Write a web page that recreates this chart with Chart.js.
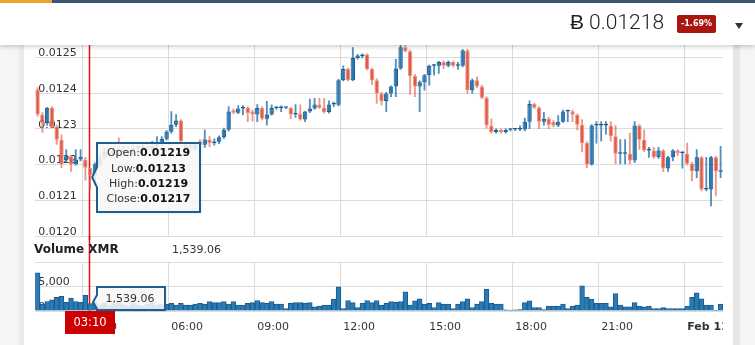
<!DOCTYPE html>
<html><head><meta charset="utf-8">
<script src="https://cdn.jsdelivr.net/npm/chart.js@4"></script>
<style>
html,body{margin:0;padding:0;width:755px;height:345px;overflow:hidden;background:#f5f5f5;font-family:"DejaVu Sans",sans-serif;}
#leftline{position:absolute;left:19px;top:0;width:5px;height:345px;background:#ebebeb;}
#panel{position:absolute;left:24px;top:0;width:709px;height:345px;background:#fff;}
#rightline{position:absolute;left:733px;top:0;width:7px;height:345px;background:#e6e6e6;}
#main{position:absolute;left:0;top:0;z-index:1}
#vol{position:absolute;left:0;top:236px;z-index:1}
#header{position:absolute;left:0;top:0;width:755px;height:45px;background:#fff;box-shadow:0 2px 4px rgba(0,0,0,0.18);z-index:5}
#topbar{position:absolute;left:0;top:0;width:755px;height:3px;background:#3b5374}
#orange{position:absolute;left:0;top:0;width:52px;height:3px;background:#f0a030}
#price{position:absolute;left:570px;top:10px;font-family:Roboto,sans-serif;font-weight:300;font-size:21px;color:#222;white-space:nowrap}
#badge{position:absolute;left:677px;top:15px;width:39px;height:18px;background:#a8160f;color:#fff;font:bold 8px "DejaVu Sans";text-align:center;line-height:18px;border-radius:2px}
#arrow{position:absolute;left:735px;top:23px;width:0;height:0;border-left:4px solid transparent;border-right:4px solid transparent;border-top:6px solid #333}
</style></head>
<body>
<div id="leftline"></div><div id="panel"></div><div id="rightline"></div>
<canvas id="main" width="723" height="240"></canvas>
<canvas id="vol" width="723" height="109"></canvas>
<div id="header"><div id="topbar"></div><div id="orange"></div>
<div id="price"></div><div id="badge"></div><div id="arrow"></div></div>
<script>
const times = [
'01:20','01:30','01:40','01:50',
'02:00','02:10','02:20','02:30','02:40','02:50',
'03:00','03:10','03:20','03:30','03:40','03:50',
'04:00','04:10','04:20','04:30','04:40','04:50',
'05:00','05:10','05:20','05:30','05:40','05:50',
'06:00','06:10','06:20','06:30','06:40','06:50',
'07:00','07:10','07:20','07:30','07:40','07:50',
'08:00','08:10','08:20','08:30','08:40','08:50',
'09:00','09:10','09:20','09:30','09:40','09:50',
'10:00','10:10','10:20','10:30','10:40','10:50',
'11:00','11:10','11:20','11:30','11:40','11:50',
'12:00','12:10','12:20','12:30','12:40','12:50',
'13:00','13:10','13:20','13:30','13:40','13:50',
'14:00','14:10','14:20','14:30','14:40','14:50',
'15:00','15:10','15:20','15:30','15:40','15:50',
'16:00','16:10','16:20','16:30','16:40','16:50',
'17:00','17:10','17:20','17:30','17:40','17:50',
'18:00','18:10','18:20','18:30','18:40','18:50',
'19:00','19:10','19:20','19:30','19:40','19:50',
'20:00','20:10','20:20','20:30','20:40','20:50',
'21:00','21:10','21:20','21:30','21:40','21:50',
'22:00','22:10','22:20','22:30','22:40','22:50',
'23:00','23:10','23:20','23:30','23:40','23:50',
'00:00','00:10','00:20','00:30','00:40','00:50',
'01:00','01:10'];

const opens = [
0.012410,0.012340,0.012316,0.012359,0.012306,0.012269,0.012212,0.012223,0.012201,0.012214,
0.012214,0.012190,0.012170,0.012200,0.012220,0.012235,0.012230,0.012245,0.012235,0.012242,
0.012234,0.012246,0.012246,0.012252,0.012242,0.012252,0.012258,0.012272,0.012292,0.012311,
0.012323,0.012242,0.012256,0.012244,0.012265,0.012255,0.012270,0.012260,0.012264,0.012276,
0.012297,0.012352,0.012345,0.012357,0.012359,0.012348,0.012340,0.012358,0.012328,0.012340,
0.012358,0.012358,0.012359,0.012358,0.012340,0.012342,0.012326,0.012348,0.012357,0.012368,
0.012359,0.012347,0.012368,0.012367,0.012436,0.012467,0.012436,0.012498,0.012503,0.012508,
0.012467,0.012436,0.012399,0.012378,0.012399,0.012418,0.012469,0.012528,0.012517,0.012448,
0.012418,0.012430,0.012450,0.012476,0.012476,0.012487,0.012476,0.012487,0.012476,0.012476,
0.012519,0.012408,0.012436,0.012418,0.012387,0.012309,0.012291,0.012297,0.012291,0.012297,
0.012298,0.012298,0.012298,0.012320,0.012369,0.012359,0.012320,0.012328,0.012320,0.012309,
0.012320,0.012348,0.012348,0.012339,0.012311,0.012260,0.012200,0.012309,0.012309,0.012309,
0.012309,0.012279,0.012230,0.012230,0.012230,0.012211,0.012309,0.012269,0.012239,0.012239,
0.012220,0.012239,0.012189,0.012220,0.012239,0.012232,0.012230,0.012202,0.012181,0.012220,
0.012130,0.012130,0.012220,0.012180];

const highs = [
0.012415,0.012345,0.012360,0.012362,0.012310,0.012283,0.012242,0.012226,0.012242,0.012242,
0.012220,0.012190,0.012205,0.012230,0.012245,0.012240,0.012255,0.012275,0.012250,0.012248,
0.012252,0.012254,0.012260,0.012256,0.012265,0.012278,0.012278,0.012296,0.012348,0.012340,
0.012326,0.012262,0.012260,0.012262,0.012270,0.012297,0.012278,0.012272,0.012280,0.012302,
0.012362,0.012355,0.012365,0.012365,0.012362,0.012352,0.012368,0.012362,0.012377,0.012367,
0.012362,0.012364,0.012360,0.012360,0.012368,0.012367,0.012349,0.012383,0.012385,0.012386,
0.012385,0.012378,0.012375,0.012438,0.012476,0.012470,0.012527,0.012508,0.012510,0.012510,
0.012470,0.012440,0.012402,0.012402,0.012420,0.012494,0.012534,0.012536,0.012520,0.012452,
0.012434,0.012452,0.012478,0.012480,0.012489,0.012490,0.012490,0.012490,0.012486,0.012522,
0.012522,0.012440,0.012445,0.012422,0.012390,0.012328,0.012300,0.012300,0.012300,0.012300,
0.012300,0.012308,0.012330,0.012378,0.012372,0.012362,0.012346,0.012332,0.012323,0.012337,
0.012352,0.012352,0.012352,0.012342,0.012326,0.012264,0.012312,0.012320,0.012320,0.012320,
0.012320,0.012309,0.012270,0.012270,0.012288,0.012320,0.012312,0.012297,0.012248,0.012248,
0.012248,0.012242,0.012223,0.012242,0.012242,0.012236,0.012260,0.012206,0.012242,0.012223,
0.012220,0.012223,0.012223,0.012251];

const lows = [
0.012335,0.012290,0.012310,0.012303,0.012256,0.012191,0.012205,0.012181,0.012198,0.012210,
0.012156,0.012130,0.012144,0.012195,0.012215,0.012225,0.012228,0.012230,0.012230,0.012228,
0.012230,0.012240,0.012242,0.012236,0.012240,0.012248,0.012254,0.012268,0.012288,0.012306,
0.012258,0.012237,0.012240,0.012240,0.012250,0.012248,0.012250,0.012254,0.012258,0.012272,
0.012293,0.012342,0.012342,0.012339,0.012320,0.012321,0.012320,0.012325,0.012310,0.012338,
0.012354,0.012348,0.012356,0.012328,0.012332,0.012324,0.012320,0.012345,0.012354,0.012356,
0.012344,0.012344,0.012362,0.012364,0.012434,0.012434,0.012434,0.012495,0.012498,0.012465,
0.012424,0.012371,0.012367,0.012348,0.012390,0.012390,0.012466,0.012514,0.012396,0.012390,
0.012348,0.012408,0.012422,0.012450,0.012455,0.012468,0.012473,0.012473,0.012466,0.012473,
0.012399,0.012399,0.012414,0.012384,0.012302,0.012288,0.012288,0.012288,0.012288,0.012294,
0.012295,0.012295,0.012294,0.012300,0.012356,0.012300,0.012310,0.012300,0.012305,0.012306,
0.012318,0.012320,0.012320,0.012297,0.012235,0.012191,0.012198,0.012260,0.012265,0.012285,
0.012265,0.012202,0.012202,0.012202,0.012202,0.012205,0.012242,0.012236,0.012220,0.012217,
0.012217,0.012180,0.012181,0.012210,0.012225,0.012190,0.012198,0.012154,0.012163,0.012126,
0.012126,0.012084,0.012112,0.012163];

const closes = [
0.012340,0.012316,0.012359,0.012306,0.012269,0.012200,0.012223,0.012200,0.012214,0.012222,
0.012191,0.012170,0.012200,0.012220,0.012235,0.012230,0.012245,0.012235,0.012242,0.012234,
0.012246,0.012246,0.012252,0.012242,0.012252,0.012258,0.012272,0.012292,0.012311,0.012323,
0.012265,0.012256,0.012244,0.012256,0.012255,0.012270,0.012260,0.012264,0.012276,0.012297,
0.012348,0.012345,0.012357,0.012358,0.012344,0.012340,0.012358,0.012328,0.012340,0.012358,
0.012358,0.012359,0.012359,0.012340,0.012342,0.012326,0.012348,0.012357,0.012368,0.012359,
0.012347,0.012368,0.012369,0.012436,0.012467,0.012436,0.012498,0.012505,0.012508,0.012467,
0.012436,0.012399,0.012378,0.012399,0.012418,0.012469,0.012528,0.012517,0.012448,0.012418,
0.012430,0.012450,0.012476,0.012477,0.012487,0.012476,0.012487,0.012476,0.012479,0.012519,
0.012408,0.012436,0.012418,0.012387,0.012309,0.012291,0.012297,0.012291,0.012297,0.012298,
0.012298,0.012299,0.012320,0.012369,0.012359,0.012320,0.012328,0.012311,0.012309,0.012320,
0.012348,0.012349,0.012339,0.012311,0.012260,0.012200,0.012309,0.012310,0.012310,0.012310,
0.012279,0.012230,0.012231,0.012231,0.012211,0.012309,0.012269,0.012239,0.012240,0.012220,
0.012239,0.012189,0.012220,0.012239,0.012232,0.012233,0.012202,0.012181,0.012220,0.012130,
0.012131,0.012220,0.012181,0.012180];

const volumes = [
7780,1430,1930,2280,2780,3000,1790,2640,1930,1790,
3210,1539.06,1930,1250,1600,1100,1450,1800,1300,1050,
1500,1200,950,1350,1650,1200,1400,1430,1570,1210,
1570,1210,1210,1430,1570,1430,1930,1710,1710,1930,
1430,1930,1210,1210,1570,1710,2140,1710,1570,1930,
1430,1430,500,1570,1710,1710,1570,1710,860,1000,
1210,1210,2430,4930,500,2140,1710,710,1570,2140,
1710,2140,1210,1570,1930,1790,1930,3930,1210,2070,
2500,1430,1570,710,1710,1430,1430,500,1430,1930,
2500,710,1430,1930,4430,1570,1430,1430,250,200,
220,280,1710,2070,710,710,290,1000,1000,1000,
1430,500,1000,1210,5140,2780,2430,1570,1570,1570,
860,3570,1210,860,860,1710,1000,860,1000,500,
500,710,500,500,500,500,1000,2780,3710,2500,
1210,1210,140,1430];

const xTickTimes  = ['03:00','06:00','09:00','12:00','15:00','18:00','21:00','00:00'];
const xTickLabels = ['03:00','06:00','09:00','12:00','15:00','18:00','21:00','Feb 11'];
const priceTicks  = [0.0120,0.0121,0.0122,0.0123,0.0124,0.0125];
const volumeTicks = [0,5000,10000];
const volumeLabelled = [0,5000];
const hoverIndex = 11;
const changeText = '-1.69%';
const coin = 'XMR';

const FONT = '"DejaVu Sans"';
const GRID = '#dcdcdc';
const BLUE = '#2a7ab6', BLUE_D = '#1b5b8c';
const RED = '#e25a44', RED_L = '#ec8f80';
const WICK_B = 'rgba(30,105,165,0.75)', WICK_R = 'rgba(226,95,75,0.65)';
const CROSS = '#e01010';

const isUp = i => closes[i] >= opens[i];
const isTick = i => xTickTimes.includes(times[i]);

document.getElementById('price').textContent = '\u0243 ' + closes[closes.length-1].toFixed(5);
document.getElementById('badge').textContent = changeText;

function drawPointerBox(ctx, bx, by, bw, bh, tipX, tipY, half) {
  ctx.save();
  ctx.beginPath();
  ctx.moveTo(bx, by);
  ctx.lineTo(bx + bw, by);
  ctx.lineTo(bx + bw, by + bh);
  ctx.lineTo(bx, by + bh);
  ctx.lineTo(bx, Math.min(by + bh, tipY + half));
  ctx.lineTo(tipX, tipY);
  ctx.lineTo(bx, Math.max(by, tipY - half));
  ctx.closePath();
  ctx.shadowColor = 'rgba(0,0,0,0.25)';
  ctx.shadowOffsetX = 1; ctx.shadowOffsetY = 1; ctx.shadowBlur = 2;
  ctx.fillStyle = 'rgba(255,255,255,0.86)';
  ctx.fill();
  ctx.shadowColor = 'transparent';
  ctx.lineWidth = 2;
  ctx.strokeStyle = '#1f5f8f';
  ctx.stroke();
  ctx.restore();
}
function drawPair(ctx, label, value, cx, cy) {
  ctx.font = '11px ' + FONT; const w1 = ctx.measureText(label).width;
  ctx.font = 'bold 11px ' + FONT; const w2 = ctx.measureText(value).width;
  const x0 = cx - (w1 + w2) / 2;
  ctx.textBaseline = 'middle'; ctx.textAlign = 'left';
  ctx.font = '11px ' + FONT; ctx.fillStyle = '#333'; ctx.fillText(label, x0, cy);
  ctx.font = 'bold 11px ' + FONT; ctx.fillStyle = '#111'; ctx.fillText(value, x0 + w1, cy);
}
const fmtVol = v => v.toLocaleString('en-US', {minimumFractionDigits: 2, maximumFractionDigits: 2});

const mainPlugin = {
  id: 'mainHover',
  beforeDatasetsDraw(chart) {
    const {ctx, scales: {x}, chartArea} = chart;
    const px = Math.round(x.getPixelForValue(hoverIndex)) - 0.5;
    ctx.save(); ctx.strokeStyle = CROSS; ctx.lineWidth = 1.5;
    ctx.beginPath(); ctx.moveTo(px, chartArea.top); ctx.lineTo(px, chart.height); ctx.stroke(); ctx.restore();
  },
  afterDraw(chart) {
    const {ctx, scales: {x, y}} = chart;
    const px = x.getPixelForValue(hoverIndex);
    const yc = y.getPixelForValue(closes[hoverIndex]);
    const bx = Math.round(px + 7), by = Math.round(yc - 32), bw = 103, bh = 69;
    drawPointerBox(ctx, bx, by, bw, bh, px + 2, yc + 2, 10);
    const cx = bx + bw / 2;
    const rows = [['Open:', opens], ['Low:', lows], ['High:', highs], ['Close:', closes]];
    rows.forEach((r, k) => drawPair(ctx, r[0], r[1][hoverIndex].toFixed(5), cx, by + 10.5 + k * 15.2));
  }
};

const volPlugin = {
  id: 'volHover',
  beforeDatasetsDraw(chart) {
    const {ctx, scales: {x}, chartArea} = chart;
    const px = Math.round(x.getPixelForValue(hoverIndex)) - 0.5;
    ctx.save(); ctx.strokeStyle = CROSS; ctx.lineWidth = 1.5;
    ctx.beginPath(); ctx.moveTo(px, 0); ctx.lineTo(px, chartArea.bottom); ctx.stroke(); ctx.restore();
  },
  afterDraw(chart) {
    const {ctx, scales: {x, y}, chartArea} = chart;
    const px = x.getPixelForValue(hoverIndex);
    ctx.save();
    ctx.textBaseline = 'middle'; ctx.textAlign = 'left';
    ctx.font = 'bold 12px ' + FONT; ctx.fillStyle = '#222';
    ctx.fillText('Volume ' + coin, 34, 14);
    ctx.font = '11px ' + FONT; ctx.fillStyle = '#333';
    ctx.fillText(fmtVol(volumes[hoverIndex]), 172, 14);
    ctx.restore();
    const bx = Math.round(px + 7), by = Math.round(y.getPixelForValue(5000)), bw = 68, bh = 23;
    drawPointerBox(ctx, bx, by, bw, bh, px + 3, by + 15, 7);
    ctx.save();
    ctx.font = '11px ' + FONT; ctx.fillStyle = '#333'; ctx.textAlign = 'center'; ctx.textBaseline = 'middle';
    ctx.fillText(fmtVol(volumes[hoverIndex]), bx + bw / 2 - 1, by + 12);
    const fx = Math.round(px) - 25, fy = chartArea.bottom;
    ctx.fillStyle = '#cc0000';
    ctx.fillRect(fx, fy, 50, 23);
    ctx.fillStyle = '#fff'; ctx.font = '11.5px ' + FONT;
    ctx.fillText(times[hoverIndex], fx + 25, fy + 12);
    ctx.restore();
  }
};

const noPadY = s => { s.width = 0; s.paddingTop = 0; s.paddingBottom = 0; };
const noPadX = h => s => { s.height = h; s.paddingLeft = 0; s.paddingRight = 0; };

new Chart(document.getElementById('main'), {
  type: 'bar',
  data: {
    labels: times,
    datasets: [
      {
        label: 'body', order: 0,
        data: opens.map((o, i) => [o, closes[i]]),
        backgroundColor: c => isUp(c.dataIndex) ? BLUE : RED,
        borderColor: c => isUp(c.dataIndex) ? BLUE_D : RED_L,
        borderWidth: 1, borderSkipped: false, minBarLength: 1.5,
        grouped: false, barPercentage: 0.92, categoryPercentage: 1
      },
      {
        label: 'wick', order: 1,
        data: lows.map((l, i) => [l, highs[i]]),
        backgroundColor: c => isUp(c.dataIndex) ? WICK_B : WICK_R,
        borderWidth: 0, grouped: false, barThickness: 1.2
      }
    ]
  },
  options: {
    responsive: false, maintainAspectRatio: false, animation: false,
    layout: {padding: {left: 35.2, right: 0, top: 44, bottom: 4}},
    plugins: {legend: {display: false}, tooltip: {enabled: false}},
    scales: {
      x: {
        type: 'category', offset: true,
        grid: {offset: true, drawTicks: false, color: c => isTick(c.index) ? GRID : 'transparent', lineWidth: 1},
        border: {display: false},
        ticks: {display: false},
        afterFit: noPadX(0)
      },
      y: {
        type: 'linear', min: 0.0120, max: 0.0125372,
        afterBuildTicks: s => { s.ticks = priceTicks.map(v => ({value: v})); },
        grid: {drawTicks: false, color: GRID},
        border: {display: false},
        ticks: {mirror: true, padding: 3, labelOffset: -4, color: '#333',
                font: {family: 'DejaVu Sans', size: 11},
                callback: v => v.toFixed(4)},
        afterFit: noPadY
      }
    }
  },
  plugins: [mainPlugin]
});

new Chart(document.getElementById('vol'), {
  type: 'bar',
  data: {
    labels: times,
    datasets: [{
      label: 'Volume', data: volumes,
      backgroundColor: BLUE, borderColor: BLUE_D, borderWidth: 1,
      barPercentage: 1, categoryPercentage: 1
    }]
  },
  options: {
    responsive: false, maintainAspectRatio: false, animation: false,
    layout: {padding: {left: 35.2, right: 0, top: 26, bottom: 0}},
    plugins: {legend: {display: false}, tooltip: {enabled: false}},
    scales: {
      x: {
        type: 'category', offset: true,
        grid: {offset: true, drawTicks: false, color: c => isTick(c.index) ? GRID : 'transparent'},
        border: {display: false},
        ticks: {
          autoSkip: false, maxRotation: 0, minRotation: 0, align: 'start', padding: 10,
          color: '#333',
          font: c => ({family: 'DejaVu Sans', size: 11, weight: times[c.index] === '00:00' ? 'bold' : 'normal'}),
          callback: (v, i) => { const k = xTickTimes.indexOf(times[i]); return k >= 0 ? xTickLabels[k] : ''; }
        },
        afterFit: noPadX(34)
      },
      y: {
        type: 'linear', min: 0, max: 10000,
        afterBuildTicks: s => { s.ticks = volumeTicks.map(v => ({value: v})); },
        grid: {drawTicks: false, color: GRID},
        border: {display: false},
        ticks: {mirror: true, padding: 3, labelOffset: -4, color: '#333',
                font: {family: 'DejaVu Sans', size: 11},
                callback: v => volumeLabelled.includes(v) ? v.toLocaleString('en-US') : ''},
        afterFit: noPadY
      }
    }
  },
  plugins: [volPlugin]
});
</script>
</body></html>
